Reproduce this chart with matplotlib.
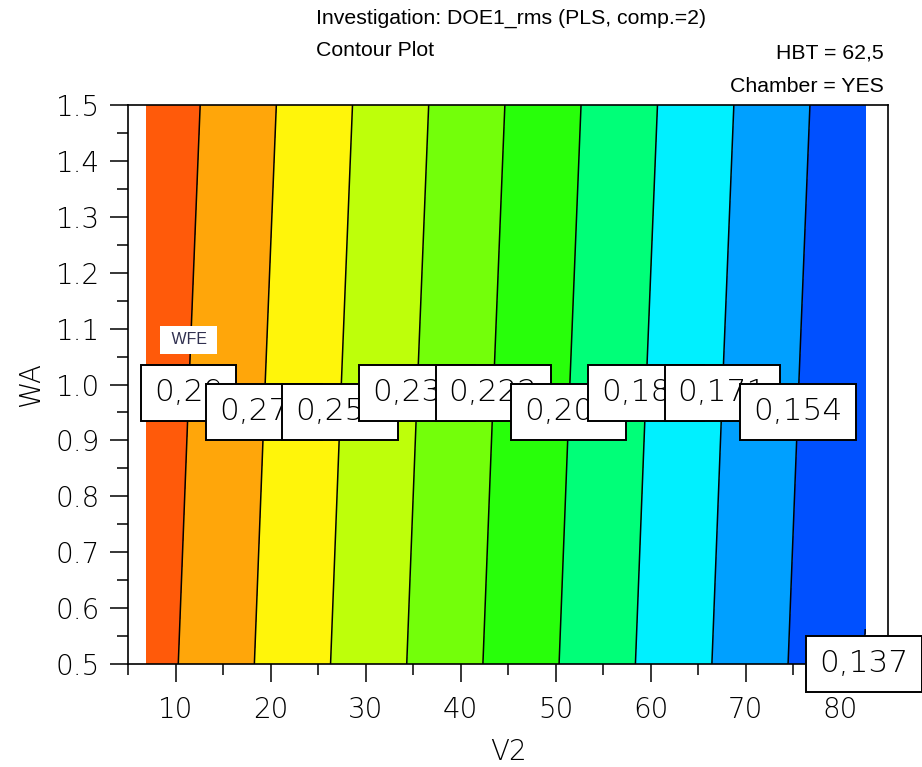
import numpy as np
import matplotlib
matplotlib.use("Agg")
import matplotlib.pyplot as plt

# ---- data ----
v2 = [6.9, 15, 25, 35, 45, 55, 65, 75, 82.6]
wa = [0.5, 1.0, 1.5]
z_rows = [
    [0.2972, 0.2800, 0.2588, 0.2376, 0.2164, 0.1952, 0.1741, 0.1529, 0.1367],
    [0.2996, 0.2824, 0.2612, 0.2400, 0.2188, 0.1976, 0.1765, 0.1553, 0.1391],
    [0.3021, 0.2849, 0.2637, 0.2425, 0.2213, 0.2001, 0.1790, 0.1578, 0.1416],
]
levels = [0.137, 0.154, 0.171, 0.188, 0.205, 0.222, 0.239, 0.256, 0.273, 0.290]
band_colors = ["#0050FF", "#00A0FF", "#00F0FF", "#00FF78", "#28FF0A",
               "#73FF0A", "#BEFF0A", "#FFF50A", "#FFA60A", "#FF5A0A"]
x_ticks = [10, 20, 30, 40, 50, 60, 70, 80]
y_ticks = [0.5, 0.6, 0.7, 0.8, 0.9, 1.0, 1.1, 1.2, 1.3, 1.4, 1.5]
# WA position of each contour label (same order as levels)
label_wa = [0.5, 0.951, 0.985, 0.985, 0.951, 0.985, 0.985, 0.951, 0.951, 0.985]

fig = plt.figure(figsize=(9.22, 7.67), dpi=100)
ax = fig.add_axes([128/922, 1-664/767, 760/922, 559/767])

X, Y = np.meshgrid(v2, wa)
Z = np.array(z_rows)
ax.contourf(X, Y, Z, levels=levels + [1.0], colors=band_colors, zorder=1)
cs = ax.contour(X, Y, Z, levels=levels, colors="black", linewidths=1.1, zorder=2)

ax.set_xlim(5, 85)
ax.set_ylim(0.5, 1.5)
ax.set_xticks(x_ticks)
ax.set_xticks(np.arange(5, 86, 5), minor=True)
ax.set_yticks(y_ticks)
ax.set_yticks(np.arange(0.5, 1.51, 0.05), minor=True)
ax.set_yticklabels([f"{t:.1f}" for t in y_ticks])
ax.tick_params(which="major", direction="out", length=13, width=1.1, labelsize=20)
ax.tick_params(which="minor", direction="out", length=8, width=1.1)
ax.tick_params(axis="x", which="major", pad=10)
ax.tick_params(axis="y", which="major", pad=7)
for lab in ax.get_xticklabels() + ax.get_yticklabels():
    lab.set_fontweight("light")
for s in ax.spines.values():
    s.set_linewidth(1.2)
ax.set_xlabel("V2", fontsize=20, labelpad=10, fontweight="light")
ax.set_ylabel("WA", fontsize=20, labelpad=8, fontweight="light")

# contour labels
n = len(levels)
for i, lev in enumerate(levels):
    segs = cs.allsegs[i]
    if not segs or len(segs[0]) == 0:
        continue
    seg = np.concatenate(segs)
    order = np.argsort(seg[:, 1])
    xl = np.interp(label_wa[i], seg[order, 1], seg[order, 0])
    ax.text(xl, label_wa[i], f"{lev:g}".replace(".", ","), fontsize=22.5,
            fontweight="light",
            ha="center", va="center", zorder=10 + (n - i), clip_on=False,
            bbox=dict(boxstyle="square,pad=0.42", fc="white", ec="black", lw=1.4))

ax.text(11.4, 1.08, " WFE ", fontsize=11.5, family="Liberation Sans", color="#303050",
        ha="center", va="center", zorder=9,
        bbox=dict(boxstyle="square,pad=0.4", fc="white", ec="none"))

tf = "Liberation Sans"
fs = 15.3
fig.text(316/922, 1-18/767, "Investigation: DOE1_rms (PLS, comp.=2)", fontsize=fs,
         family=tf, ha="left", va="center")
fig.text(316/922, 1-51/767, "Contour Plot", fontsize=fs, family=tf, ha="left", va="center")
fig.text(884/922, 1-53/767, "HBT = 62,5", fontsize=fs, family=tf, ha="right", va="center")
fig.text(884/922, 1-86/767, "Chamber = YES", fontsize=fs, family=tf, ha="right", va="center")

fig.savefig("out.png", dpi=100)
